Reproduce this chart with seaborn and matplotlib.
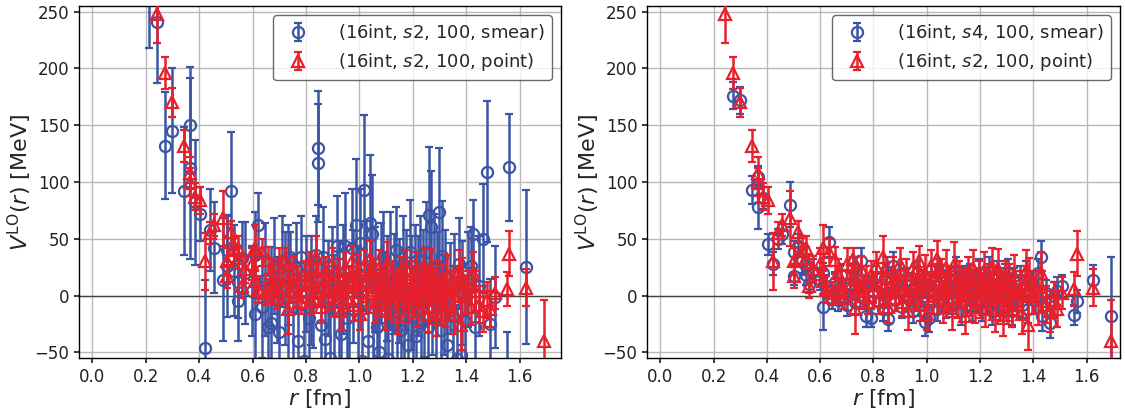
import numpy as np
import matplotlib
matplotlib.use("Agg")
import matplotlib.pyplot as plt
import seaborn as sns

# lattice distances r [fm] (shared by all three series)
r_fm = [
    0.211, 0.244, 0.273, 0.299, 0.345, 0.366, 0.366, 0.386, 0.405, 0.423,
    0.440, 0.456, 0.488, 0.503, 0.503, 0.518, 0.532, 0.546, 0.546, 0.559,
    0.572, 0.598, 0.610, 0.610, 0.622, 0.634, 0.646, 0.657, 0.668, 0.668,
    0.679, 0.690, 0.701, 0.711, 0.722, 0.732, 0.732, 0.742, 0.752, 0.762,
    0.772, 0.781, 0.791, 0.800, 0.810, 0.819, 0.828, 0.837, 0.846, 0.846,
    0.855, 0.864, 0.872, 0.881, 0.890, 0.898, 0.906, 0.915, 0.923, 0.931,
    0.939, 0.947, 0.955, 0.963, 0.971, 0.976, 0.986, 0.994, 1.002, 1.009,
    1.017, 1.024, 1.031, 1.039, 1.046, 1.053, 1.060, 1.067, 1.074, 1.081,
    1.088, 1.095, 1.102, 1.109, 1.116, 1.122, 1.129, 1.136, 1.142, 1.149,
    1.156, 1.162, 1.169, 1.175, 1.182, 1.188, 1.195, 1.201, 1.207, 1.213,
    1.220, 1.226, 1.232, 1.238, 1.244, 1.250, 1.256, 1.262, 1.268, 1.274,
    1.280, 1.286, 1.292, 1.298, 1.304, 1.310, 1.316, 1.321, 1.327, 1.339,
    1.350, 1.356, 1.367, 1.373, 1.379, 1.384, 1.395, 1.406, 1.417, 1.427,
    1.433, 1.449, 1.462, 1.478, 1.489, 1.509, 1.553, 1.562, 1.623, 1.690,
]

# (16int, s2, 100, point)
v_point = [
    300, 248, 196, 170, 132, 108, 100, 87, 84, 30,
    55, 62, 68, 17, 30, 56, 40, 42, 33, 8,
    23, 28, 42, 13, 5, 38, 2, 31, 20, 4,
    10, -2, 28, 8, 32, -12, 15, 4, 23, 0,
    12, -6, 18, 5, 26, -4, 10, 34, 2, 16,
    -10, 8, 22, -2, 12, 28, -6, 6, 18, -14,
    4, 24, -2, 14, 30, -8, 10, 20, -16, 6,
    26, -4, 14, 32, 2, 18, -10, 8, 24, -2,
    12, -14, 27, 4, -6, 16, 0, 10, -18, 6,
    20, -4, 10, 24, -10, 2, 16, -6, 8, 22,
    -12, 4, 14, -2, 26, 6, -16, 10, 23, -4,
    8, -20, 16, 0, -8, 12, 2, -12, 18, -4,
    6, -16, 10, 22, -26, 15, 0, 8, -10, 20,
    4, -8, -14, -4, -12, 2, 6, 37, 7, -40,
]
e_point = [
    30, 26, 14, 13, 14, 14, 12, 12, 12, 25,
    10, 10, 24, 10, 12, 10, 12, 10, 10, 10,
    12, 14, 20, 12, 12, 12, 10, 12, 12, 10,
    12, 10, 14, 12, 10, 22, 12, 10, 12, 10,
    14, 10, 12, 12, 12, 12, 10, 18, 10, 12,
    14, 10, 12, 12, 10, 14, 12, 10, 14, 16,
    12, 14, 10, 12, 14, 14, 12, 16, 14, 12,
    14, 12, 14, 16, 12, 14, 14, 12, 16, 12,
    14, 16, 20, 12, 14, 14, 12, 14, 16, 12,
    14, 14, 12, 16, 14, 12, 14, 14, 12, 16,
    16, 12, 14, 14, 16, 12, 16, 14, 18, 14,
    14, 16, 14, 14, 14, 16, 14, 16, 18, 14,
    16, 18, 16, 18, 22, 18, 16, 14, 16, 18,
    18, 16, 18, 16, 16, 14, 15, 20, 16, 36,
]

# (16int, s2, 100, smear)
v_s2 = [
    290, 241, 132, 145, 92, 150, 112, 82, 72, -46,
    58, 42, 14, 40, 26, 92, 22, 12, -5, 33,
    20, 4, -16, 36, 62, -10, 14, -28, -24, 8,
    26, -4, -32, 30, 6, -62, 18, 34, -10, 24,
    -40, 34, -58, 10, -20, 4, -6, 36, 130, 117,
    -26, 34, -38, 6, -55, 22, -14, 44, -4, -34,
    14, 44, -20, -70, 42, 8, 62, -12, 46, -58,
    93, 26, -40, 64, 54, -62, 14, -28, -50, 20,
    34, -12, 6, -56, 22, -22, 10, 40, -60, 4,
    -30, 28, -8, 14, -44, 38, 2, -18, 22, -36,
    8, 30, -24, 16, -6, 38, -28, 71, 60, -12,
    24, -20, 10, 74, -30, 35, -8, 18, -44, 6,
    -18, 12, -56, 28, -52, 2, -22, 14, 26, 54,
    -28, 8, 50, 109, -25, -1, -75, 113, 25, np.nan,
]
e_s2 = [
    72, 54, 47, 55, 56, 51, 80, 55, 24, 60,
    36, 40, 54, 30, 45, 52, 40, 32, 35, 32,
    45, 40, 48, 38, 28, 45, 50, 40, 50, 35,
    42, 38, 52, 40, 50, 55, 44, 22, 46, 40,
    50, 36, 45, 42, 52, 48, 40, 34, 50, 52,
    54, 44, 60, 42, 48, 38, 50, 44, 52, 46,
    48, 46, 40, 60, 52, 50, 58, 56, 48, 62,
    66, 40, 56, 60, 52, 58, 46, 42, 55, 44,
    40, 50, 46, 52, 52, 40, 44, 38, 48, 46,
    50, 42, 48, 44, 40, 46, 50, 42, 40, 50,
    44, 40, 46, 42, 48, 44, 50, 60, 50, 40,
    48, 44, 46, 56, 42, 48, 44, 40, 50, 40,
    44, 42, 48, 40, 50, 46, 38, 42, 34, 30,
    42, 44, 48, 62, 40, 45, 43, 47, 68, 50,
]

# (16int, s4, 100, smear)
v_s4 = [
    np.nan, 270, 176, 172, 93, 104, 78, 86, 45, 28,
    50, 54, 80, 38, 17, 44, 30, 26, 18, 10,
    22, 14, -10, 20, 8, 47, -2, 12, 4, -4,
    18, 2, -8, 10, 24, -6, 6, 14, 30, -2,
    -18, 8, -20, 4, 16, -6, 10, -12, 22, 2,
    -21, 12, 26, -4, 8, 18, -10, 4, 14, -2,
    10, -14, 6, 20, -8, 2, 12, -23, 4, -20,
    16, 0, 8, -12, 20, 6, -4, 12, -10, 2,
    14, -6, 8, 22, -2, 10, -14, 4, 16, -8,
    6, 18, -10, 2, 12, -4, 20, 8, -12, 4,
    14, -6, 22, 6, -14, 10, 0, 18, -8, 12,
    4, -10, 16, 2, 20, -6, 8, -14, 12, 0,
    14, -8, 6, 18, -12, 4, 10, -4, 20, 34,
    -18, 2, -24, 0, 4, 8, -17, -5, 14, -18,
]
e_s4 = [
    20, 14, 12, 12, 12, 10, 19, 10, 9, 10,
    9, 9, 20, 10, 8, 10, 10, 8, 9, 8,
    10, 9, 20, 9, 10, 13, 10, 9, 9, 10,
    10, 9, 10, 11, 10, 10, 9, 10, 12, 10,
    10, 9, 8, 10, 10, 10, 9, 10, 12, 9,
    10, 10, 12, 10, 9, 10, 10, 9, 10, 10,
    10, 10, 9, 10, 10, 10, 10, 13, 10, 12,
    10, 10, 10, 10, 12, 10, 10, 10, 10, 10,
    10, 10, 10, 12, 10, 10, 12, 10, 10, 10,
    10, 10, 12, 10, 10, 10, 12, 10, 10, 10,
    10, 10, 12, 10, 12, 10, 10, 12, 10, 12,
    10, 12, 12, 10, 12, 12, 10, 12, 12, 10,
    12, 12, 12, 12, 12, 12, 12, 12, 12, 14,
    13, 12, 13, 12, 12, 10, 9, 10, 13, 52,
]

blue = "#3a55a5"
red = "#e8202c"

sns.set_theme(style="whitegrid")
plt.rcParams.update({
    "axes.edgecolor": "black",
    "axes.linewidth": 1.0,
    "grid.color": "#b8b8b8",
    "grid.linewidth": 1.0,
    "xtick.bottom": True,
    "ytick.left": True,
    "xtick.major.size": 3.5,
    "ytick.major.size": 3.5,
    "xtick.color": "#222222",
    "ytick.color": "#222222",
})
plt.rcParams["font.family"] = ["DejaVu Sans"]

fig = plt.figure(figsize=(11.25, 4.12), dpi=100)
ax_l = fig.add_axes([0.0702, 0.1311, 0.4284, 0.8544])
ax_r = fig.add_axes([0.5751, 0.1311, 0.4204, 0.8544])

panels = [
    (ax_l, v_s2, e_s2, r"(16int, $s$2, 100, smear)", 1.755),
    (ax_r, v_s4, e_s4, r"(16int, $s$4, 100, smear)", 1.725),
]

for ax, v_sm, e_sm, lab, xmax in panels:
    ax.axhline(0, color="#444444", lw=1.0, zorder=1)
    ax.errorbar(r_fm, v_sm, yerr=e_sm, fmt="o", mfc="none", mec=blue, color=blue,
                ms=8, mew=1.6, elinewidth=1.8, capsize=3, capthick=1.6,
                label=lab, zorder=2)
    ax.errorbar(r_fm, v_point, yerr=e_point, fmt="^", mfc="none", mec=red, color=red,
                ms=8, mew=1.6, elinewidth=1.8, capsize=3, capthick=1.6,
                label=r"(16int, $s$2, 100, point)", zorder=3)
    ax.set_xlim(-0.05, xmax)
    ax.set_ylim(-55, 255)
    ax.set_xticks(np.arange(0, 1.61, 0.2))
    ax.set_yticks([-50, 0, 50, 100, 150, 200, 250])
    ax.tick_params(labelsize=12)
    ax.set_xlabel(r"$r$ [fm]", fontsize=16, labelpad=1)
    ax.set_ylabel(r"$V^{\rm LO}(r)$ [MeV]", fontsize=16, labelpad=0)
    leg = ax.legend(loc="upper right", fontsize=13, frameon=True, fancybox=True,
                    borderaxespad=0.5, handletextpad=1.2)
    leg.get_frame().set_edgecolor("#444444")
    leg.get_frame().set_linewidth(1.0)
    for s in ax.spines.values():
        s.set_color("black")

fig.savefig("out.png", dpi=100)
